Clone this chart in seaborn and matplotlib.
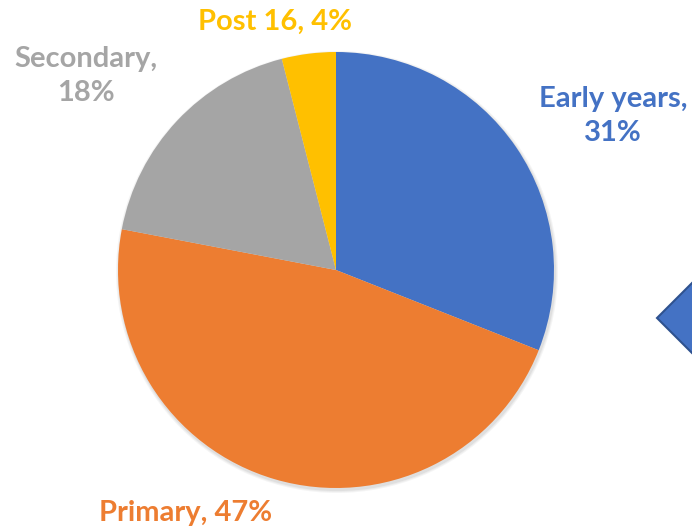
import matplotlib.pyplot as plt
import seaborn as sns
from matplotlib.patches import Polygon

categorias = ['Early years', 'Primary', 'Secondary', 'Post 16']
porcentajes = [31, 47, 18, 4]
colores_hex = ['#4472C4', '#ED7D31', '#A5A5A5', '#FFC000']

sns.set_theme(style='white')
plt.rcParams['font.family'] = ['Lato', 'DejaVu Sans']
colores = sns.color_palette(colores_hex)

fig = plt.figure(figsize=(6.92, 5.30), dpi=100)
ax = fig.add_axes([0, 0, 1, 1])

# sombra suave detrás del pastel
for i, a in enumerate([0.04, 0.04, 0.05]):
    sombra = plt.Circle((337, 258), 218 + 3 - i, color='black', alpha=a, lw=0)
    ax.add_patch(sombra)

ax.pie(porcentajes, colors=colores, startangle=90, counterclock=False,
       center=(336, 260), radius=218, wedgeprops=dict(linewidth=0))
ax.set_xlim(0, 692)
ax.set_ylim(0, 530)
ax.set_aspect('equal')
ax.axis('off')

# posiciones de las etiquetas (centro del texto)
pos_etiquetas = [(613, 414), (186, 17), (86, 454), (275, 508)]
for cat, val, col, (x, y) in zip(categorias, porcentajes, colores_hex, pos_etiquetas):
    if cat in ('Early years', 'Secondary'):
        texto = f'{cat},\n{val}%'
    else:
        texto = f'{cat}, {val}%'
    ax.text(x, y, texto, color=col, fontsize=21, fontweight='bold',
            ha='center', va='center', linespacing=1.35)

# forma de flecha azul cortada en el borde derecho
flecha = Polygon([(657, 212), (697, 252), (697, 172)], closed=True,
                 facecolor='#4472C4', edgecolor='#2F528F', lw=1.5)
ax.add_patch(flecha)

plt.savefig('out.png', dpi=100)
plt.close()
